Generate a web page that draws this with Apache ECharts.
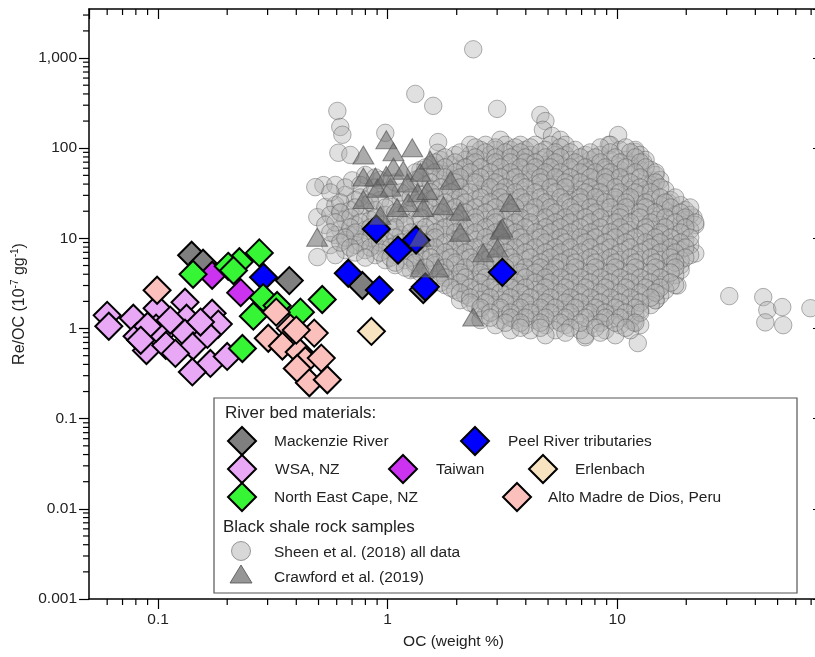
<!DOCTYPE html>
<html>
<head>
<meta charset="utf-8">
<script src="https://cdn.jsdelivr.net/npm/echarts@6/dist/echarts.min.js"></script>
<style>
  html, body { margin: 0; padding: 0; background: #fff; }
  #chart { width: 815px; height: 657px; }
</style>
</head>
<body>
<div id="chart"></div>
<script>
// Axis ranges (log scales)
const X_MIN = 0.05, X_MAX = 75;
const Y_MIN = 0.001, Y_MAX = 3500;

// Minor tick positions for the log axes
const xMinorTicks = [0.06, 0.07, 0.08, 0.09, 0.2, 0.3, 0.4, 0.5, 0.6, 0.7, 0.8, 0.9,
  2, 3, 4, 5, 6, 7, 8, 9, 20, 30, 40, 50, 60, 70];
const yMinorTicks = [0.002, 0.003, 0.004, 0.005, 0.006, 0.007, 0.008, 0.009,
  0.02, 0.03, 0.04, 0.05, 0.06, 0.07, 0.08, 0.09,
  0.2, 0.3, 0.4, 0.5, 0.6, 0.7, 0.8, 0.9,
  2, 3, 4, 5, 6, 7, 8, 9, 20, 30, 40, 50, 60, 70, 80, 90,
  200, 300, 400, 500, 600, 700, 800, 900, 2000, 3000];

// River bed materials: [OC wt%, Re/OC]
const mackenzie = [[0.14, 6.5], [0.157, 5.3], [0.373, 3.4], [0.776, 3.0], [1.43, 2.7]];
const peel = [[0.893, 12.7], [1.11, 7.4], [1.33, 9.6], [0.674, 4.1], [0.92, 2.67],
  [1.46, 2.9], [3.16, 4.2], [0.288, 3.7]];
const wsa = [[0.060, 1.40], [0.061, 1.06], [0.078, 1.30], [0.081, 0.82], [0.099, 1.68],
  [0.131, 1.96], [0.133, 1.30], [0.104, 0.89], [0.089, 0.57], [0.108, 0.65],
  [0.131, 0.89], [0.142, 0.64], [0.172, 1.48], [0.183, 1.12], [0.164, 0.86],
  [0.169, 0.41], [0.141, 0.33], [0.200, 0.49], [0.119, 0.53], [0.098, 1.01],
  [0.090, 1.06], [0.153, 1.18], [0.113, 1.24], [0.084, 0.74]];
const taiwan = [[0.172, 3.9], [0.229, 2.5]];
const neCape = [[0.142, 4.0], [0.226, 5.5], [0.276, 6.9], [0.202, 4.9], [0.213, 4.4],
  [0.287, 2.2], [0.26, 1.37], [0.33, 1.8], [0.417, 1.52], [0.519, 2.1], [0.233, 0.60]];
const altoMadre = [[0.099, 2.66], [0.327, 1.52], [0.377, 1.01], [0.302, 0.78], [0.348, 0.64],
  [0.479, 0.89], [0.412, 0.55], [0.438, 0.44], [0.514, 0.47], [0.404, 0.36],
  [0.456, 0.25], [0.546, 0.27], [0.40, 0.96]];
const erlenbach = [[0.85, 0.93]];

// Black shale rock samples: Crawford et al. (2019) [OC wt%, Re/OC]
const crawford = [[0.784, 84], [0.987, 124], [1.06, 91], [1.28, 101], [0.784, 48], [0.884, 48],
  [1.06, 62], [1.17, 57], [1.39, 54], [0.784, 27], [0.902, 36], [1.03, 37], [1.22, 41],
  [1.35, 32], [1.49, 34], [1.88, 44], [1.10, 22], [1.23, 25], [1.43, 22], [1.75, 23],
  [2.07, 20], [3.42, 25], [0.493, 10.3], [1.39, 10.3], [2.07, 11.7], [3.10, 12.4],
  [2.61, 6.9], [3.01, 7.8], [1.39, 4.7], [1.66, 4.7], [2.36, 1.34], [3.16, 13],
  [0.987, 50], [1.53, 74], [0.93, 18]];

// Sheen et al. (2018): scattered samples [OC wt%, Re/OC]
const sheenSparse = [[2.36, 1250], [1.32, 400], [1.58, 295], [3.0, 273], [0.604, 259],
  [0.622, 172], [0.635, 141], [0.61, 89], [0.977, 148], [1.66, 117], [1.65, 89],
  [0.525, 39], [0.484, 37], [0.70, 44], [0.622, 19.6], [0.494, 17.2], [0.535, 22.3],
  [0.494, 6.2], [0.688, 10.9], [30.8, 2.29], [43.3, 2.23], [45.1, 1.6], [52.4, 1.73],
  [44.2, 1.17], [52.9, 1.09], [69.5, 1.68], [12.3, 0.69], [7.25, 0.80],
  [4.63, 234], [4.87, 200], [4.75, 160], [5.2, 137], [10.1, 140], [9.2, 109],
  [12.0, 91], [13.0, 70], [14.4, 44], [16.7, 25], [21.5, 17], [21.9, 6.8],
  [18.9, 5.05], [18.3, 3.0], [14.7, 2.06], [11.8, 1.17]];

// Sheen et al. (2018): main cloud, grouped by Re/OC level -> OC values
const sheenRows = [
  [124, [3.10, 5.66]],
  [109, [2.29, 2.67, 3.26, 3.79, 4.40, 5.12, 5.95, 9.34]],
  [95.7, [2.54, 2.95, 3.43, 3.98, 4.87, 6.57, 10.3, 12.0]],
  [84.2, [0.688, 1.97, 2.29, 2.80, 3.60, 4.19, 5.38, 5.95, 7.27, 8.45, 12.6]],
  [74.1, [1.70, 2.18, 2.54, 3.10, 3.79, 4.63, 5.12, 6.25, 7.64, 9.34, 10.9, 13.3]],
  [65.2, [1.54, 1.88, 2.29, 2.80, 3.26, 4.19, 4.87, 5.66, 6.91, 8.04, 9.82, 11.4]],
  [57.4, [1.39, 1.70, 2.07, 2.41, 2.95, 3.60, 3.98, 4.63, 5.38, 6.57, 7.64, 8.88, 10.3, 12.6, 14.0]],
  [50.5, [0.799, 1.54, 1.88, 2.18, 2.67, 3.26, 3.79, 4.40, 5.12, 5.95, 7.27, 8.45, 9.82, 11.4, 14.7]],
  [44.4, [0.929, 1.32, 1.70, 2.07, 2.41, 2.80, 3.43, 4.19, 4.87, 5.66, 6.57, 8.04, 9.34, 10.9, 13.3, 15.4]],
  [39.1, [0.592, 0.760, 1.46, 1.88, 2.29, 2.67, 3.10, 3.60, 4.40, 5.38, 6.25, 7.27, 8.45, 10.3, 12.0, 14.0]],
  [34.4, [1.03, 1.61, 1.97, 2.54, 2.95, 3.79, 4.63, 5.66, 6.91, 8.04, 9.34, 11.4, 13.3, 16.2]],
  [30.3, [0.654, 0.841, 1.39, 1.78, 2.18, 2.67, 3.26, 3.98, 4.87, 5.95, 6.57, 7.64, 8.88, 10.9, 12.6, 14.7]],
  [26.6, [0.723, 0.929, 1.14, 1.54, 1.97, 2.41, 2.95, 3.43, 4.19, 5.12, 6.25, 7.27, 8.45, 9.82, 12.0, 14.0, 17.1]],
  [23.4, [0.592, 0.799, 1.03, 1.70, 2.07, 2.54, 3.10, 3.79, 4.63, 5.38, 6.57, 8.04, 10.3, 12.6, 15.4, 18.9]],
  [20.6, [0.688, 0.884, 1.26, 1.46, 1.88, 2.29, 2.80, 3.26, 3.98, 4.87, 5.66, 6.91, 8.45, 9.82, 11.4, 14.0, 16.2, 19.8]],
  [18.2, [0.563, 0.760, 0.977, 1.14, 1.61, 2.07, 2.54, 3.10, 3.60, 4.40, 5.12, 6.25, 7.64, 9.34, 10.9, 13.3, 15.4, 17.9, 20.8]],
  [16.0, [0.654, 0.841, 1.08, 1.32, 1.78, 2.18, 2.67, 3.26, 3.79, 4.63, 5.66, 6.57, 8.04, 9.34, 12.0, 14.7, 17.1, 19.8]],
  [14.1, [0.535, 0.723, 0.929, 1.19, 1.54, 1.88, 2.29, 2.80, 3.43, 4.19, 5.12, 5.95, 7.27, 8.88, 10.9, 12.6, 15.4, 18.9, 21.9]],
  [12.4, [0.622, 0.799, 1.03, 1.39, 1.70, 2.07, 2.54, 3.10, 3.79, 4.63, 5.38, 6.57, 8.04, 9.82, 11.4, 14.0, 17.1, 20.8]],
  [10.9, [0.592, 0.723, 0.884, 1.14, 1.46, 1.78, 2.29, 2.80, 3.43, 3.98, 4.87, 5.95, 7.27, 8.45, 10.3, 12.6, 15.4, 17.9]],
  [9.57, [0.654, 0.799, 0.977, 1.26, 1.54, 1.97, 2.41, 2.95, 3.60, 4.40, 5.38, 6.57, 7.64, 9.34, 11.4, 14.0, 16.2, 19.8]],
  [8.43, [0.563, 0.723, 0.884, 1.08, 1.39, 1.70, 2.07, 2.54, 3.10, 3.79, 4.63, 5.66, 6.91, 8.45, 10.3, 12.6, 14.7, 17.9, 20.8]],
  [7.41, [0.654, 0.799, 0.977, 1.19, 1.54, 1.88, 2.29, 2.80, 3.43, 4.19, 5.12, 5.95, 7.27, 8.88, 10.9, 13.3, 16.2, 18.9]],
  [6.52, [0.592, 0.884, 1.08, 1.32, 1.70, 2.07, 2.54, 3.10, 3.79, 4.63, 5.38, 6.57, 8.04, 9.82, 12.0, 14.7, 17.1, 20.8]],
  [5.74, [0.977, 1.19, 1.46, 1.78, 2.18, 2.67, 3.26, 3.98, 4.87, 5.95, 7.27, 8.88, 10.3, 12.6, 15.4, 18.9]],
  [5.05, [1.08, 1.32, 1.61, 1.97, 2.41, 2.95, 3.60, 4.40, 5.12, 6.25, 7.64, 9.34, 11.4, 14.0, 17.1]],
  [4.44, [1.26, 1.54, 1.88, 2.29, 2.80, 3.43, 4.19, 4.87, 5.66, 6.91, 8.45, 10.3, 12.6, 15.4, 18.9]],
  [3.91, [1.70, 2.07, 2.54, 3.10, 3.79, 4.63, 5.38, 6.57, 8.04, 9.82, 12.0, 14.7, 17.9]],
  [3.44, [1.88, 2.29, 2.80, 3.43, 4.19, 4.87, 5.95, 7.27, 8.88, 10.9, 13.3, 16.2]],
  [3.03, [1.78, 2.18, 2.67, 3.26, 3.79, 4.63, 5.66, 6.91, 8.45, 10.3, 12.6, 15.4, 17.9]],
  [2.66, [1.97, 2.41, 2.95, 3.60, 4.40, 5.12, 6.25, 7.64, 9.34, 11.4, 14.0, 16.2]],
  [2.34, [2.18, 2.67, 3.26, 3.98, 4.87, 5.95, 7.27, 8.88, 10.9, 13.3, 15.4]],
  [2.06, [2.07, 2.54, 3.10, 3.79, 4.63, 5.66, 6.57, 8.04, 9.82, 12.0, 14.7]],
  [1.82, [2.41, 2.95, 3.60, 4.19, 5.12, 6.25, 7.64, 9.34, 11.4, 14.0]],
  [1.60, [2.54, 3.10, 3.60, 4.19, 4.87, 5.95, 7.27, 8.45, 10.3, 12.6]],
  [1.41, [2.67, 3.26, 3.79, 4.63, 5.66, 6.91, 8.45, 9.82, 12.0]],
  [1.24, [2.54, 3.10, 3.60, 4.40, 5.38, 6.57, 8.04, 9.34, 11.4]],
  [1.09, [2.95, 3.98, 4.87, 5.95, 7.64, 10.3, 12.6]],
  [0.957, [3.43, 4.19, 5.38, 6.91, 8.88, 11.4]],
  [0.843, [4.87, 7.27, 9.82]],
  // interleaved levels
  [102, [2.41, 2.95, 3.60, 4.19, 5.66, 8.45, 10.9]],
  [89.8, [2.07, 2.67, 3.26, 3.79, 4.63, 5.38, 6.25, 7.64, 9.34, 11.4]],
  [79.0, [1.78, 2.41, 2.95, 3.43, 3.98, 4.87, 5.66, 6.91, 8.04, 9.82, 12.0]],
  [69.5, [1.61, 1.97, 2.41, 2.95, 3.43, 3.98, 4.40, 5.38, 6.57, 8.45, 10.3, 12.6]],
  [61.2, [1.46, 1.78, 2.18, 2.54, 3.10, 3.79, 4.40, 5.12, 6.25, 7.27, 8.88, 10.9, 13.3]],
  [53.8, [1.32, 1.61, 1.97, 2.29, 2.80, 3.43, 4.19, 4.87, 5.66, 6.91, 8.04, 9.34, 12.0, 14.7]],
  [47.4, [0.884, 1.39, 1.78, 2.07, 2.54, 3.10, 3.60, 4.63, 5.38, 6.25, 7.64, 8.88, 10.3, 12.6]],
  [41.7, [1.08, 1.54, 1.97, 2.41, 2.95, 3.79, 4.63, 5.95, 6.91, 8.88, 11.4, 14.7]],
  [36.7, [0.654, 0.884, 1.26, 1.70, 2.07, 2.80, 3.26, 3.98, 5.12, 5.95, 7.64, 9.82, 12.6, 15.4]],
  [32.3, [0.563, 1.14, 1.54, 1.88, 2.29, 3.10, 3.60, 4.40, 5.38, 7.27, 8.45, 10.3, 12.0, 14.0]],
  [28.4, [0.760, 1.26, 1.61, 2.07, 2.54, 3.10, 3.79, 4.63, 5.66, 6.91, 8.04, 9.82, 11.4, 15.4, 17.9]],
  [25.0, [0.622, 0.841, 1.39, 1.78, 2.18, 2.80, 3.26, 3.98, 4.87, 5.95, 6.91, 8.88, 10.9, 13.3, 16.2]],
  [22.0, [0.723, 0.977, 1.54, 1.97, 2.41, 2.95, 3.60, 4.40, 5.12, 6.25, 7.64, 9.34, 10.9, 13.3, 17.1, 20.8]],
  [19.3, [0.622, 1.08, 1.70, 2.18, 2.67, 3.43, 4.19, 5.38, 6.57, 8.04, 10.3, 12.6, 14.7, 18.9]],
  [17.0, [0.688, 0.884, 1.39, 1.97, 2.41, 2.95, 3.79, 4.87, 5.95, 7.27, 8.45, 10.3, 12.6, 16.2, 19.8]],
  [15.0, [0.592, 0.760, 1.19, 1.61, 1.97, 2.41, 2.95, 3.60, 4.19, 5.38, 6.25, 7.64, 9.82, 11.4, 14.0, 17.9, 21.9]],
  [13.2, [0.688, 0.841, 1.08, 1.46, 1.78, 2.18, 2.67, 3.26, 3.98, 4.87, 5.66, 6.91, 8.45, 10.3, 13.3, 16.2, 19.8]],
  [11.6, [0.563, 0.723, 0.929, 1.26, 1.61, 1.97, 2.41, 2.95, 3.60, 4.40, 5.12, 6.25, 7.64, 9.34, 10.9, 13.3, 15.4, 18.9]],
  [10.2, [0.654, 0.841, 1.08, 1.32, 1.61, 2.07, 2.67, 3.10, 3.79, 4.63, 5.66, 6.91, 8.04, 9.82, 12.0, 14.7, 17.1, 20.8]],
  [8.99, [0.622, 0.760, 0.929, 1.14, 1.46, 1.78, 2.18, 2.80, 3.26, 3.98, 4.87, 5.95, 7.27, 8.88, 10.9, 13.3, 15.4, 18.9]],
  [7.91, [0.688, 0.841, 1.03, 1.32, 1.61, 1.97, 2.41, 2.95, 3.60, 4.40, 5.38, 6.25, 7.64, 9.34, 11.4, 14.0, 17.1, 19.8]],
  [6.96, [0.723, 0.929, 1.14, 1.39, 1.78, 2.18, 2.67, 3.26, 3.98, 4.87, 5.66, 6.91, 8.45, 10.3, 12.6, 15.4, 17.9]],
  [6.12, [0.799, 1.03, 1.26, 1.54, 1.88, 2.29, 2.80, 3.43, 4.19, 5.12, 6.25, 7.64, 9.34, 11.4, 14.0, 17.1, 19.8]],
  [5.39, [1.08, 1.32, 1.61, 1.97, 2.41, 2.95, 3.60, 4.63, 5.66, 6.57, 8.04, 9.82, 12.0, 14.7, 17.9]],
  [4.74, [1.19, 1.46, 1.78, 2.18, 2.67, 3.26, 3.98, 4.63, 5.38, 6.57, 8.04, 9.82, 12.0, 14.7, 17.9]],
  [4.17, [1.39, 1.70, 2.07, 2.54, 3.10, 3.79, 4.40, 5.12, 6.25, 7.64, 9.34, 11.4, 14.0, 17.1]],
  [3.67, [1.78, 2.18, 2.67, 3.26, 3.98, 4.87, 5.66, 6.91, 8.45, 10.3, 12.6, 15.4]],
  [3.23, [1.70, 2.07, 2.54, 2.95, 3.60, 4.40, 5.12, 6.25, 7.64, 9.34, 11.4, 14.0, 17.1]],
  [2.84, [1.88, 2.29, 2.80, 3.43, 3.98, 4.87, 5.95, 7.27, 8.88, 10.9, 13.3, 15.4]],
  [2.50, [2.07, 2.54, 3.10, 3.79, 4.63, 5.66, 6.91, 8.45, 10.3, 12.6, 14.7]],
  [2.20, [2.29, 2.80, 3.43, 4.19, 5.12, 6.25, 7.64, 9.34, 11.4, 14.0]],
  [1.94, [2.29, 2.67, 3.26, 3.98, 4.87, 5.95, 6.91, 8.45, 10.3, 12.6]],
  [1.70, [2.54, 3.10, 3.79, 4.63, 5.38, 6.57, 8.04, 9.82, 12.0]],
  [1.50, [2.80, 3.43, 4.19, 5.12, 6.25, 7.64, 8.88, 10.9, 12.6]],
  [1.32, [2.80, 3.43, 3.98, 4.87, 5.95, 7.27, 8.88, 10.3]],
  [1.16, [3.26, 3.79, 4.63, 5.66, 6.91, 8.45, 9.82, 12.0]],
  [1.02, [3.79, 4.63, 6.25, 8.04, 10.9]],
  [0.90, [5.95, 8.45]]
];

const FONT = '"Liberation Sans", Arial, Helvetica, sans-serif';

const sheen = sheenSparse.slice();
sheenRows.forEach(([re, ocs]) => ocs.forEach(oc => sheen.push([oc, re])));

function fmtNum(v) {
  return Number(v.toPrecision(6)).toLocaleString('en-US', { maximumFractionDigits: 4 });
}

function diamondSeries(name, data, color) {
  return {
    name, type: 'scatter', data, symbol: 'diamond', symbolSize: 27,
    xAxisIndex: 0, yAxisIndex: 0,
    itemStyle: { color, borderColor: '#000', borderWidth: 2, opacity: 1 },
    emphasis: { disabled: true }
  };
}

const tickStyle = { color: '#000', width: 1.2 };
const circleStyle = { fill: 'rgba(178,178,178,0.5)', stroke: 'rgba(80,80,80,0.55)' };
const triangleStyle = { fill: 'rgba(110,110,110,0.72)', stroke: 'rgba(80,80,80,0.8)' };

const option = {
  animation: false,
  backgroundColor: '#fff',
  textStyle: { fontFamily: FONT },
  grid: { left: 89, right: -3, top: 9, bottom: 58, outerBoundsMode: 'none', containLabel: false },
  xAxis: [
    {
      type: 'log', logBase: 10, min: X_MIN, max: X_MAX, position: 'bottom',
      axisLine: { lineStyle: { color: '#000', width: 1.5 } },
      axisTick: { inside: false, length: 10, lineStyle: tickStyle },
      axisLabel: { margin: 13, fontSize: 15.5, color: '#222', fontFamily: FONT,
        showMinLabel: false, showMaxLabel: false, formatter: fmtNum },
      splitLine: { show: false },
      name: 'OC (weight %)', nameLocation: 'middle', nameGap: 35,
      nameTextStyle: { fontSize: 15.5, color: '#222', fontFamily: FONT }
    },
    {
      type: 'log', logBase: 10, min: X_MIN, max: X_MAX, position: 'top',
      axisLine: { lineStyle: { color: '#000', width: 1.5 } },
      axisTick: { inside: true, length: 10, lineStyle: tickStyle },
      axisLabel: { show: false }, splitLine: { show: false }
    }
  ],
  yAxis: [
    {
      type: 'log', logBase: 10, min: Y_MIN, max: Y_MAX, position: 'left',
      axisLine: { lineStyle: { color: '#000', width: 1.5 } },
      axisTick: { inside: false, length: 10, lineStyle: tickStyle },
      axisLabel: { margin: 12, fontSize: 15.5, color: '#222', fontFamily: FONT,
        showMaxLabel: false, formatter: fmtNum },
      splitLine: { show: false },
      name: 'Re/OC (10{sup|-7} gg{sup|-1})', nameLocation: 'middle', nameGap: 53,
      nameTextStyle: {
        fontSize: 16, color: '#222', fontFamily: FONT,
        rich: { sup: { fontSize: 10, color: '#222', fontFamily: FONT, padding: [0, 0, 9, 0] } }
      }
    },
    {
      type: 'log', logBase: 10, min: Y_MIN, max: Y_MAX, position: 'right',
      axisLine: { show: false },
      axisTick: { inside: true, length: 5, lineStyle: tickStyle },
      axisLabel: { show: false }, splitLine: { show: false }
    }
  ],
  series: [
    {
      name: 'Sheen et al. (2018) all data', type: 'scatter', data: sheen,
      symbol: 'circle', symbolSize: 17.5, large: false,
      itemStyle: { color: circleStyle.fill, borderColor: circleStyle.stroke, borderWidth: 1 },
      emphasis: { disabled: true }
    },
    diamondSeries('Mackenzie River', mackenzie, '#7f7f7f'),
    diamondSeries('Peel River tributaries', peel, '#0000ff'),
    {
      name: 'Crawford et al. (2019)', type: 'scatter', data: crawford,
      symbol: 'triangle', symbolSize: [21, 18],
      itemStyle: { color: triangleStyle.fill, borderColor: triangleStyle.stroke, borderWidth: 1 },
      emphasis: { disabled: true }
    },
    diamondSeries('WSA, NZ', wsa, '#e8a8f6'),
    diamondSeries('Taiwan', taiwan, '#cc33f0'),
    diamondSeries('North East Cape, NZ', neCape, '#35f535'),
    diamondSeries('Alto Madre de Dios, Peru', altoMadre, '#fbc0bb'),
    diamondSeries('Erlenbach', erlenbach, '#f8e3c1'),
    {
      // minor ticks on the bottom (outward) and top (inward) axes
      type: 'custom', silent: true, clip: false, z: 5,
      data: xMinorTicks.map(v => [v, Y_MIN]),
      renderItem(params, api) {
        const b = api.coord([api.value(0), Y_MIN]);
        const t = api.coord([api.value(0), Y_MAX]);
        return { type: 'group', children: [
          { type: 'line', shape: { x1: b[0], y1: b[1], x2: b[0], y2: b[1] + 6 }, style: { stroke: '#000', lineWidth: 1.2 } },
          { type: 'line', shape: { x1: t[0], y1: t[1], x2: t[0], y2: t[1] + 6 }, style: { stroke: '#000', lineWidth: 1.2 } }
        ] };
      }
    },
    {
      // minor ticks on the left axis (outward)
      type: 'custom', silent: true, clip: false, z: 5,
      data: yMinorTicks.map(v => [X_MIN, v]),
      renderItem(params, api) {
        const p = api.coord([X_MIN, api.value(1)]);
        return { type: 'line', shape: { x1: p[0], y1: p[1], x2: p[0] - 6, y2: p[1] }, style: { stroke: '#000', lineWidth: 1.2 } };
      }
    }
  ],
  graphic: buildLegend()
};

function diamond(cx, cy, color) {
  return { type: 'polygon', z: 20,
    shape: { points: [[cx, cy - 14], [cx + 14, cy], [cx, cy + 14], [cx - 14, cy]] },
    style: { fill: color, stroke: '#000', lineWidth: 2 } };
}
function label(x, y, text, size) {
  return { type: 'text', x, y, z: 20,
    style: { text, fill: '#222', font: (size || 15.5) + 'px ' + FONT, verticalAlign: 'middle' } };
}

function buildLegend() {
  return [
    { type: 'rect', z: 19, shape: { x: 214, y: 398, width: 583, height: 195 },
      style: { fill: '#fff', stroke: '#555', lineWidth: 1.2 } },
    label(225, 413, 'River bed materials:', 17),
    diamond(242, 441, '#7f7f7f'), label(274, 442, 'Mackenzie River'),
    diamond(475, 441, '#0000ff'), label(508, 442, 'Peel River tributaries'),
    diamond(242, 469, '#e8a8f6'), label(275, 470, 'WSA, NZ'),
    diamond(403, 469, '#cc33f0'), label(436, 470, 'Taiwan'),
    diamond(543, 469, '#f8e3c1'), label(575, 470, 'Erlenbach'),
    diamond(242, 497, '#35f535'), label(274, 498, 'North East Cape, NZ'),
    diamond(517, 497, '#fbc0bb'), label(548, 498, 'Alto Madre de Dios, Peru'),
    label(223, 527, 'Black shale rock samples', 17),
    { type: 'circle', z: 20, shape: { cx: 241, cy: 551, r: 9.5 },
      style: { fill: circleStyle.fill, stroke: circleStyle.stroke, lineWidth: 1 } },
    label(274, 553, 'Sheen et al. (2018) all data'),
    { type: 'polygon', z: 20, shape: { points: [[241, 565], [252, 583], [230, 583]] },
      style: { fill: triangleStyle.fill, stroke: triangleStyle.stroke, lineWidth: 1 } },
    label(274, 578, 'Crawford et al. (2019)')
  ];
}

const chart = echarts.init(document.getElementById('chart'), null, { renderer: 'canvas' });
chart.setOption(option);
</script>
</body>
</html>
